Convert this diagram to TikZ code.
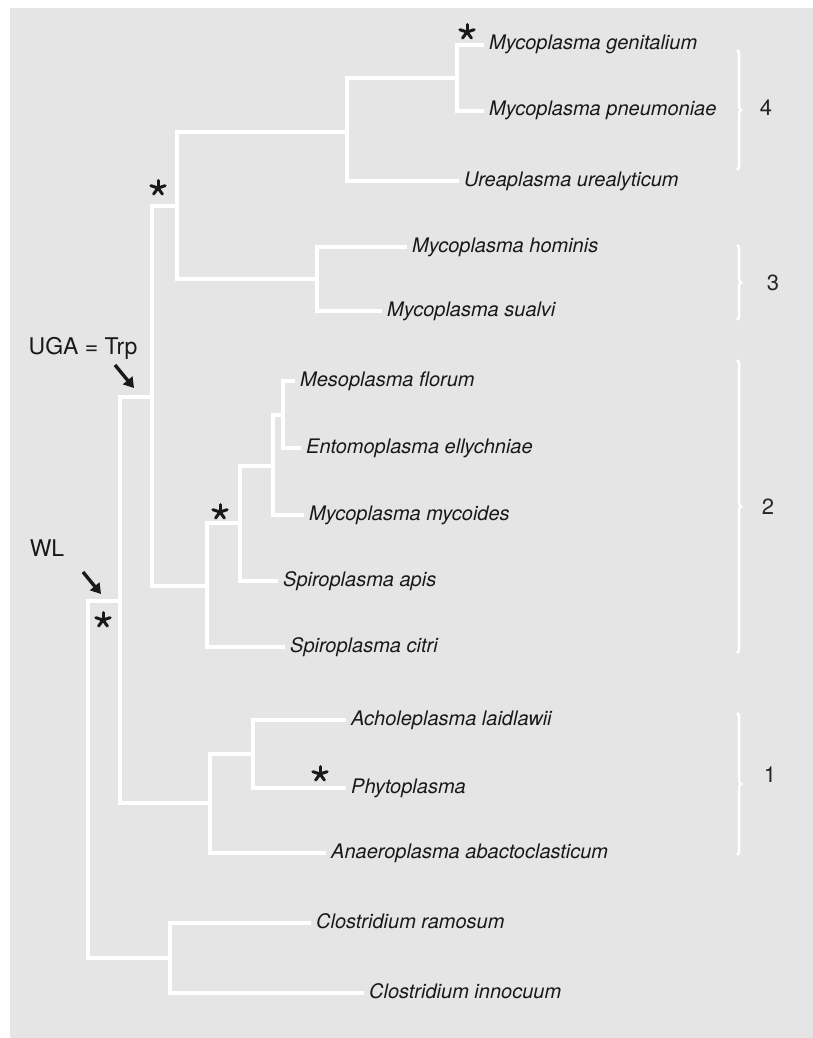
\documentclass[tikz,border=0pt]{standalone}
\usepackage{fontspec}
\setmainfont{TeX Gyre Heros}
\usetikzlibrary{arrows.meta,decorations.pathreplacing}
\begin{document}
\begin{tikzpicture}[x=1pt,y=-1pt,
  br/.style={draw=white,line width=4pt,line cap=rect,line join=miter},
  leaf/.style={anchor=west,inner xsep=7pt,inner ysep=0pt,font=\fontsize{20}{24}\selectfont\itshape,text height=14pt,text depth=4pt,text=black!90},
  lab/.style={font=\fontsize{23}{27}\selectfont,text=black!90,inner sep=0pt},
  num/.style={font=\fontsize{22}{26}\selectfont,text=black!85,inner sep=0pt},
  brk/.style={draw=white,line width=2.5pt,decorate,decoration={brace,amplitude=4pt}},
  arr/.style={line width=3.4pt,-{Triangle[length=10pt,width=12pt]},draw=black!90},
  astr/.pic={\foreach \a in {90,18,162,-54,234} \draw[line width=3pt,line cap=round,black!90] (0pt,0pt) -- (\a:7.5pt);}]
\useasboundingbox (0,0) rectangle (812,1038);
\fill[black!10] (10,8) rectangle (840,1060);

% leaves
\node[leaf] (gen)  at (482,45)  {Mycoplasma genitalium};
\node[leaf] (pneu) at (482,111) {Mycoplasma pneumoniae};
\node[leaf] (urea) at (457,181) {Ureaplasma urealyticum};
\node[leaf] (hom)  at (405,247) {Mycoplasma hominis};
\node[leaf] (sua)  at (380,311) {Mycoplasma sualvi};
\node[leaf] (flo)  at (293,381) {Mesoplasma florum};
\node[leaf] (ent)  at (299,448) {Entomoplasma ellychniae};
\node[leaf] (myc)  at (302,515) {Mycoplasma mycoides};
\node[leaf] (api)  at (276,581) {Spiroplasma apis};
\node[leaf] (cit)  at (283,647) {Spiroplasma citri};
\node[leaf] (ach)  at (344,720) {Acholeplasma laidlawii};
\node[leaf] (phy)  at (344,788) {Phytoplasma};
\node[leaf] (ana)  at (324,853) {Anaeroplasma abactoclasticum};
\node[leaf] (ram)  at (309,923) {Clostridium ramosum};
\node[leaf] (inn)  at (362,993) {Clostridium innocuum};

% internal nodes
\coordinate (ngp) at (457,78);
\coordinate (n4)  at (347,132);
\coordinate (n3)  at (317,279);
\coordinate (n34) at (177,206);
\coordinate (nme) at (283,415);
\coordinate (nmm) at (273,466);
\coordinate (nsa) at (240,523);
\coordinate (n2)  at (207,586);
\coordinate (nug) at (152,397);
\coordinate (n1a) at (253,754);
\coordinate (n1)  at (210,803);
\coordinate (nwl) at (120,601);
\coordinate (ncl) at (170,958);
\coordinate (nrt) at (88,780);

% branches
\draw[br] (ngp) |- (gen.west);
\draw[br] (ngp) |- (pneu.west);
\draw[br] (n4) |- (ngp);
\draw[br] (n4) |- (urea.west);
\draw[br] (n3) |- (hom.west);
\draw[br] (n3) |- (sua.west);
\draw[br] (n34) |- (n4);
\draw[br] (n34) |- (n3);
\draw[br] (nme) |- (flo.west);
\draw[br] (nme) |- (ent.west);
\draw[br] (nmm) |- (nme);
\draw[br] (nmm) |- (myc.west);
\draw[br] (nsa) |- (nmm);
\draw[br] (nsa) |- (api.west);
\draw[br] (n2) |- (nsa);
\draw[br] (n2) |- (cit.west);
\draw[br] (nug) |- (n34);
\draw[br] (nug) |- (n2);
\draw[br] (n1a) |- (ach.west);
\draw[br] (n1a) |- (phy.west);
\draw[br] (n1) |- (n1a);
\draw[br] (n1) |- (ana.west);
\draw[br] (nwl) |- (nug);
\draw[br] (nwl) |- (n1);
\draw[br] (ncl) |- (ram.west);
\draw[br] (ncl) |- (inn.west);
\draw[br] (nrt) |- (nwl);
\draw[br] (nrt) |- (ncl);

% asterisks
\pic at (467,32) {astr};
\pic at (158,188) {astr};
\pic at (220,512) {astr};
\pic at (103,620) {astr};
\pic at (320,774) {astr};

% annotations
\node[lab] (uga) at (83,348) {UGA = Trp};
\node[lab] (wl)  at (47,548) {WL};
\coordinate (ugaS) at (115,365);
\coordinate (ugaE) at (134,388);
\coordinate (wlS)  at (83,572);
\coordinate (wlE)  at (101,594);
\draw[arr] (ugaS) -- (ugaE);
\draw[arr] (wlS) -- (wlE);

% brackets
\coordinate (b4a) at (737,50);  \coordinate (b4b) at (737,170);
\coordinate (b3a) at (737,245); \coordinate (b3b) at (737,320);
\coordinate (b2a) at (737,360); \coordinate (b2b) at (737,653);
\coordinate (b1a) at (737,713); \coordinate (b1b) at (737,855);
\draw[brk] (b4a) -- (b4b);
\draw[brk] (b3a) -- (b3b);
\draw[brk] (b2a) -- (b2b);
\draw[brk] (b1a) -- (b1b);
\node[num] (g4) at (766,108) {4};
\node[num] (g3) at (773,283) {3};
\node[num] (g2) at (768,507) {2};
\node[num] (g1) at (770,775) {1};
\end{tikzpicture}
\end{document}
